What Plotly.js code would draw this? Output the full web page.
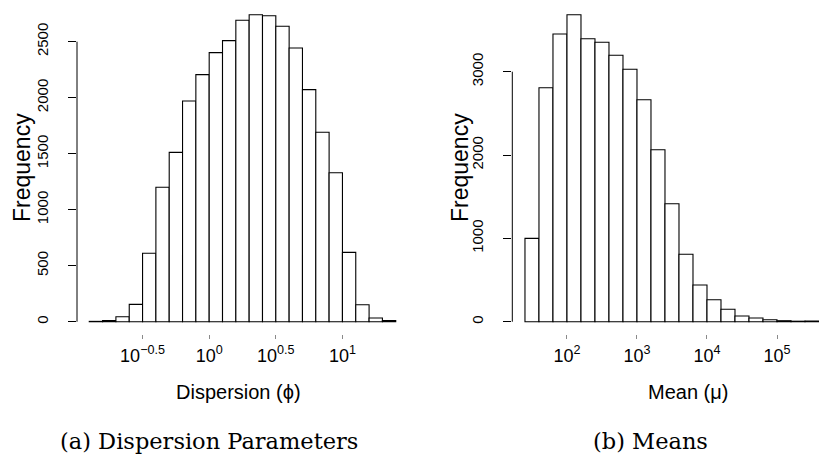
<!DOCTYPE html>
<html>
<head>
<meta charset="utf-8">
<script src="https://cdn.plot.ly/plotly-3.0.1.min.js"></script>
<style>
  html, body { margin: 0; padding: 0; background: #ffffff; }
  #chart { width: 819px; height: 461px; }
</style>
</head>
<body>
<div id="chart"></div>
<script>
// (a) Dispersion parameters: counts per bin of log10(phi), bin width 0.1
const dispBinStart = -0.9;
const dispBinWidth = 0.1;
const dispCounts = [3, 10, 45, 155, 611, 1200, 1512, 1970, 2206, 2402, 2509, 2691,
                    2741, 2732, 2638, 2444, 2072, 1691, 1330, 619, 152, 33, 10];
const dispTickVals = [-0.5, 0, 0.5, 1];
const dispTickText = ['10<sup>\u22120.5</sup>', '10<sup>0</sup>', '10<sup>0.5</sup>', '10<sup>1</sup>'];
const dispFreqTicks = [0, 500, 1000, 1500, 2000, 2500];

// (b) Means: counts per bin of log10(mu), bin width 0.2
const meanBinStart = 1.4;
const meanBinWidth = 0.2;
const meanCounts = [1000, 2808, 3452, 3684, 3396, 3353, 3197, 3029, 2664, 2064, 1416,
                    809, 440, 264, 149, 68, 44, 24, 12, 6, 8];
const meanTickVals = [2, 3, 4, 5];
const meanTickText = ['10<sup>2</sup>', '10<sup>3</sup>', '10<sup>4</sup>', '10<sup>5</sup>'];
const meanFreqTicks = [0, 1000, 2000, 3000];

// Labels
const freqLabel = 'Frequency';
const dispAxisLabel = 'Dispersion (\u03D5)';
const meanAxisLabel = 'Mean (\u03BC)';
const dispCaption = '(a) Dispersion Parameters';
const meanCaption = '(b) Means';

// ---- helpers ----
const W = 819, H = 461;
const px = x => x / W;          // pixel column -> paper x
const py = y => 1 - y / H;      // pixel row -> paper y

function binCenters(start, width, n) {
  return Array.from({ length: n }, (_, i) => start + (i + 0.5) * width);
}
// y range padded 4% on both sides, like a classic hist() frame
function paddedCountRange(counts) {
  const m = Math.max(...counts);
  return [-0.04 * m, 1.04 * m];
}

const sans = 'Liberation Sans, Arial, Helvetica, sans-serif';
const serif = 'DejaVu Serif, Liberation Serif, serif';

const barStyle = {
  type: 'bar',
  marker: { color: '#ffffff', line: { color: '#000000', width: 1.1 } },
  hoverinfo: 'x+y',
  showlegend: false
};

const traces = [
  Object.assign({}, barStyle, {
    x: binCenters(dispBinStart, dispBinWidth, dispCounts.length),
    y: dispCounts,
    width: dispBinWidth,
    xaxis: 'x', yaxis: 'y'
  }),
  Object.assign({}, barStyle, {
    x: binCenters(meanBinStart, meanBinWidth, meanCounts.length),
    y: meanCounts,
    width: meanBinWidth,
    xaxis: 'x2', yaxis: 'y2'
  })
];

const dispSpan = dispCounts.length * dispBinWidth;
const dispXRange = [dispBinStart - 0.04 * dispSpan, dispBinStart + dispSpan + 0.04 * dispSpan];

const yDomain = [py(334), py(2.4)];

function xAxis(domain, range, vals, text) {
  return {
    domain: domain, range: range,
    tickmode: 'array', tickvals: vals, ticktext: text,
    ticks: 'outside', ticklen: 4, tickwidth: 1, tickcolor: '#8a8a8a',
    ticklabelstandoff: 1,
    showline: false, showgrid: false, zeroline: false,
    tickfont: { family: sans, size: 18, color: '#000' },
    fixedrange: true
  };
}
function yAxis(anchor, range, vals) {
  return {
    anchor: anchor, domain: yDomain, range: range,
    tickmode: 'array', tickvals: vals, ticktext: vals.map(String),
    ticks: 'outside', ticklen: 8, tickwidth: 1, tickcolor: '#000',
    tickangle: -90, ticklabelstandoff: 14,
    showline: false, showgrid: false, zeroline: false,
    tickfont: { family: sans, size: 15, color: '#000' },
    fixedrange: true
  };
}

function label(text, x, y, font, angle) {
  return {
    text: text, xref: 'paper', yref: 'paper', x: px(x), y: py(y),
    xanchor: 'center', yanchor: 'middle', textangle: angle || 0,
    showarrow: false, font: font
  };
}

const titleFont = { family: sans, size: 23, color: '#000' };
const axisFont = { family: sans, size: 20, color: '#000' };
const captionFont = { family: serif, size: 22.5, color: '#000' };

const layout = {
  width: W, height: H,
  margin: { l: 0, r: 0, t: 0, b: 0 },
  paper_bgcolor: '#ffffff', plot_bgcolor: '#ffffff',
  bargap: 0,
  xaxis: Object.assign(xAxis([px(77), px(408)], dispXRange, dispTickVals, dispTickText), { anchor: 'y' }),
  yaxis: yAxis('x', paddedCountRange(dispCounts), dispFreqTicks),
  xaxis2: Object.assign(xAxis([px(512.3), 1], [1.219, 5.6], meanTickVals, meanTickText), { anchor: 'y2' }),
  yaxis2: yAxis('x2', paddedCountRange(meanCounts), meanFreqTicks),
  shapes: [
    // y axis lines spanning first to last tick
    { type: 'line', xref: 'x domain', yref: 'y', x0: 0, x1: 0,
      y0: dispFreqTicks[0], y1: dispFreqTicks[dispFreqTicks.length - 1],
      line: { color: '#000', width: 1 } },
    { type: 'line', xref: 'x2 domain', yref: 'y2', x0: 0, x1: 0,
      y0: meanFreqTicks[0], y1: meanFreqTicks[meanFreqTicks.length - 1],
      line: { color: '#000', width: 1 } }
  ],
  annotations: [
    label(freqLabel, 22, 168, titleFont, -90),
    label(freqLabel, 460, 168, titleFont, -90),
    label(dispAxisLabel, 238, 392, axisFont),
    label(meanAxisLabel, 688, 392, axisFont),
    label(dispCaption, 208.5, 441, captionFont),
    label(meanCaption, 650, 441, captionFont)
  ]
};

Plotly.newPlot('chart', traces, layout, { displayModeBar: false, staticPlot: true });
</script>
</body>
</html>
